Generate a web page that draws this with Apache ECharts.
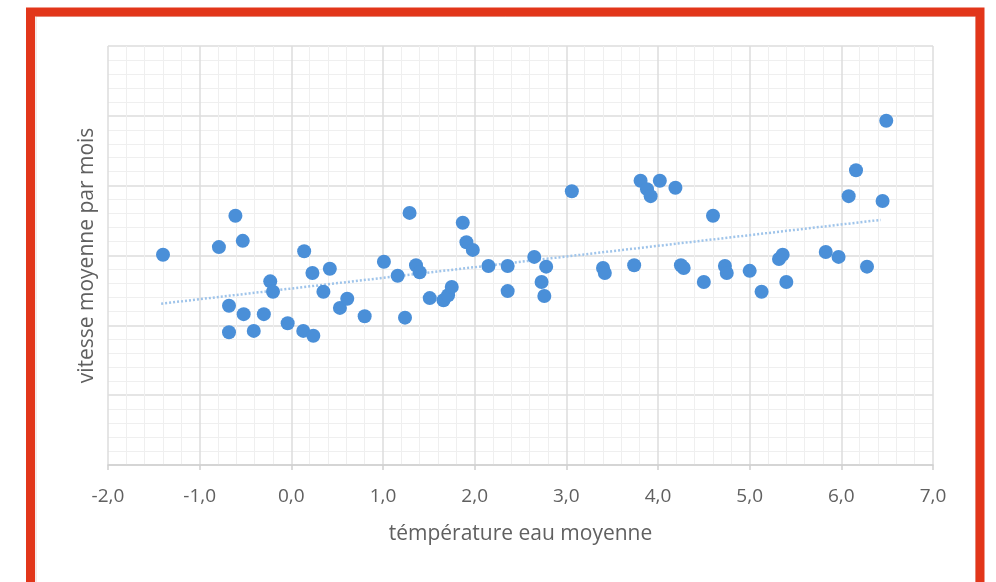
<!DOCTYPE html>
<html>
<head>
<meta charset="utf-8">
<script src="https://cdn.jsdelivr.net/npm/echarts@6/dist/echarts.min.js"></script>
<style>
html,body{margin:0;padding:0;background:#fff;}
#c{width:996px;height:582px;}
</style>
</head>
<body>
<div id="c"></div>
<script>
// Data (x: température eau moyenne, y: vitesse moyenne par mois)
var tempX = [-1.40,-0.79,-0.61,-0.53,-0.68,-0.68,-0.52,-0.41,-0.30,-0.23,-0.20,-0.04,0.14,0.13,0.24,0.23,0.42,0.35,0.53,0.61,0.80,1.01,1.16,1.24,1.29,1.36,1.40,1.51,1.66,1.71,1.75,1.87,1.91,1.98,2.15,2.36,2.36,2.65,2.78,2.73,2.76,3.06,3.40,3.42,3.74,3.81,3.88,3.92,4.02,4.19,4.25,4.28,4.50,4.60,4.73,4.75,5.00,5.13,5.32,5.36,5.40,5.83,5.97,6.08,6.16,6.28,6.45,6.49];
var speedY = [3.01,3.12,3.57,3.21,2.28,1.90,2.16,1.92,2.16,2.63,2.48,2.03,3.06,1.92,1.85,2.75,2.81,2.48,2.25,2.38,2.13,2.91,2.71,2.11,3.61,2.86,2.76,2.39,2.36,2.43,2.55,3.47,3.19,3.08,2.85,2.85,2.49,2.98,2.84,2.62,2.42,3.92,2.82,2.75,2.86,4.07,3.95,3.85,4.07,3.97,2.86,2.82,2.62,3.57,2.85,2.75,2.78,2.48,2.95,3.01,2.62,3.05,2.98,3.85,4.22,2.84,3.78,4.93];
var trendX = [-1.42, 6.43];
var trendY = [2.31, 3.51];
var xTicks = {min: -2, max: 7, step: 1};
var yTicks = {min: 0, max: 6, step: 1};

var points = tempX.map(function (x, i) { return [x, speedY[i]]; });
var trend = trendX.map(function (x, i) { return [x, trendY[i]]; });

var chart = echarts.init(document.getElementById('c'), null, {renderer: 'canvas'});
chart.setOption({
  animation: false,
  backgroundColor: '#ffffff',
  graphic: [
    {type: 'rect', shape: {x: 30.5, y: 12, width: 949.5, height: 580},
     style: {fill: 'none', stroke: '#e2361a', lineWidth: 9}, z: 100},
    {type: 'rect', shape: {x: 36, y: 16.5, width: 939.5, height: 570},
     style: {fill: 'none', stroke: '#ead6d2', lineWidth: 1}, z: 99}
  ],
  grid: {left: 108, right: 63, top: 46, bottom: 117, containLabel: false},
  xAxis: {
    type: 'value', min: xTicks.min, max: xTicks.max, interval: xTicks.step,
    name: 'témpérature eau moyenne', nameLocation: 'middle', nameGap: 59,
    nameTextStyle: {color: '#606060', fontSize: 21, fontFamily: 'Open Sans'},
    axisLine: {show: true, onZero: false, lineStyle: {color: '#d0d0d0', width: 1.5}},
    axisTick: {show: true, length: 5, lineStyle: {color: '#d0d0d0', width: 1.5}},
    axisLabel: {color: '#606060', fontSize: 19, fontFamily: 'Open Sans', margin: 22,
      formatter: function (v) { return v.toFixed(1).replace('.', ','); }},
    splitLine: {show: true, lineStyle: {color: '#dcdcdc', width: 1.5}},
    minorTick: {show: false, splitNumber: 5},
    minorSplitLine: {show: true, lineStyle: {color: '#efefef', width: 1}}
  },
  yAxis: {
    type: 'value', min: yTicks.min, max: yTicks.max, interval: yTicks.step,
    name: 'vitesse moyenne par mois', nameLocation: 'middle', nameGap: 10,
    nameTextStyle: {color: '#606060', fontSize: 21, fontFamily: 'Open Sans'},
    axisLine: {show: false},
    axisTick: {show: false},
    axisLabel: {show: false},
    splitLine: {show: true, lineStyle: {color: '#dcdcdc', width: 1.5}},
    minorTick: {show: false, splitNumber: 5},
    minorSplitLine: {show: true, lineStyle: {color: '#efefef', width: 1}}
  },
  series: [
    {type: 'line', data: trend, symbol: 'none', silent: true, z: 1,
     lineStyle: {color: '#9fc4ea', width: 2.5, type: [2, 2]}},
    {type: 'scatter', data: points, symbol: 'circle', symbolSize: 14, z: 2,
     itemStyle: {color: '#4a8fd8', opacity: 1}}
  ]
});
</script>
</body>
</html>
